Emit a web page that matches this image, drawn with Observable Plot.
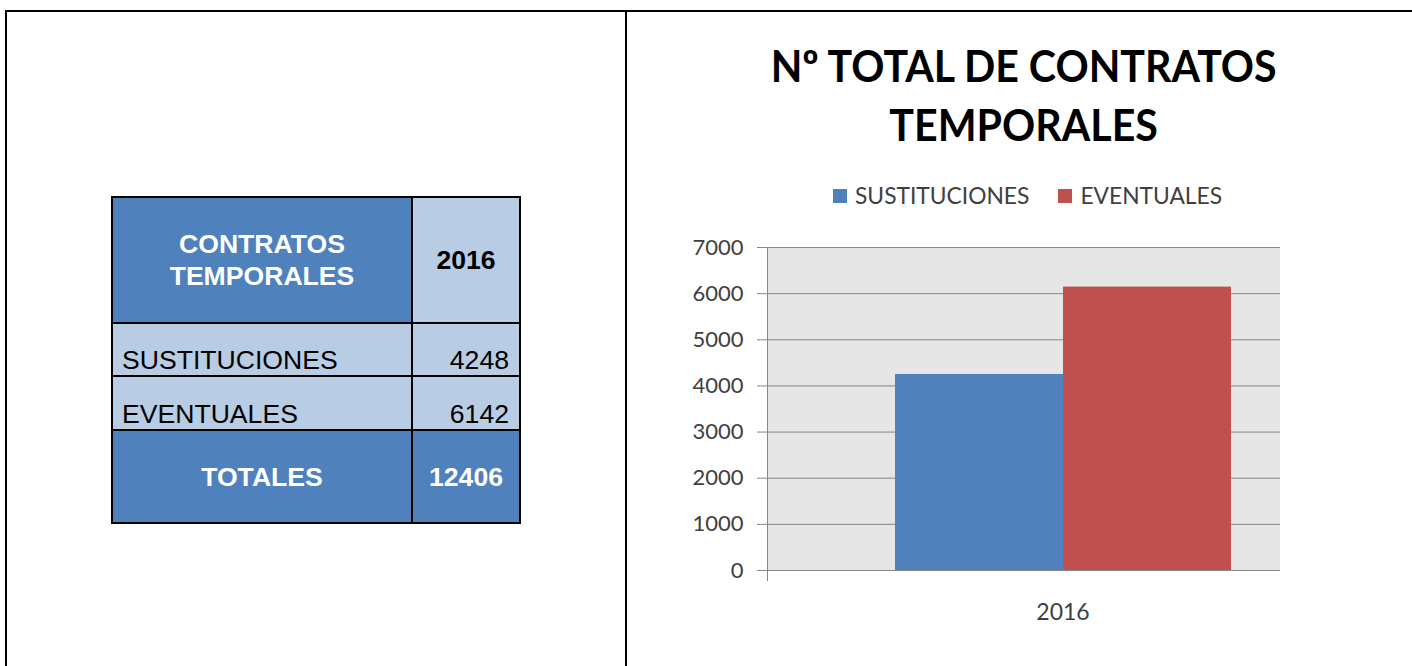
<!DOCTYPE html>
<html>
<head>
<meta charset="utf-8">
<script src="https://cdn.jsdelivr.net/npm/d3@7"></script>
<script src="https://cdn.jsdelivr.net/npm/@observablehq/plot@0.6"></script>
<style>
  html, body { margin: 0; padding: 0; background: #fff; }
  #page { position: relative; width: 1412px; height: 666px; overflow: hidden; background: #fff; }
  .line { position: absolute; background: #000; }
  #tbl { position: absolute; left: 111px; top: 196px; width: 406px; height: 324px; padding: 2px;
         background: #000; display: grid; grid-template-columns: 298px 106px; grid-template-rows: 124px 51px 52px 91px;
         gap: 2px; font-family: "Liberation Sans", Arial, sans-serif; font-size: 26.6px; }
  #tbl div { display: flex; box-sizing: border-box; }
  .dark { background: #4f81bd; color: #fff; font-weight: bold; align-items: center; justify-content: center; text-align: center; line-height: 32px; }
  .light { background: #b8cce4; color: #000; }
  .hdrYear { align-items: center; justify-content: center; font-weight: bold; }
  .rowLabel { align-items: flex-end; justify-content: flex-start; padding-left: 9px; line-height: 30px; }
  .rowVal { align-items: flex-end; justify-content: flex-end; padding-right: 10px; line-height: 30px; }
  #title { position: absolute; left: 627px; width: 794px; top: 36px; text-align: center;
           font-family: Lato, sans-serif; font-weight: bold; font-size: 44px; line-height: 59px; color: #000; }
  #title span { display: inline-block; white-space: nowrap; transform-origin: 50% 50%; }
  #legend { position: absolute; left: 833px; top: 182px; display: flex; align-items: center;
            font-family: Lato, sans-serif; font-size: 22.8px; line-height: 26px; color: #404040; }
  #legend .item { display: flex; align-items: center; margin-right: 29px; }
  #legend .sw { width: 14px; height: 14px; margin-right: 8px; margin-top: 1px; }
  #chart { position: absolute; left: 680px; top: 230px; width: 600px; height: 400px; overflow: hidden; }
  #chart svg { max-width: none !important; }
</style>
</head>
<body>
<div id="page">
  <div class="line" style="left:5px;top:10px;width:1407px;height:2px"></div>
  <div class="line" style="left:5px;top:10px;width:2px;height:656px"></div>
  <div class="line" style="left:625px;top:10px;width:2px;height:656px"></div>
  <div id="tbl"></div>
  <div id="title"></div>
  <div id="legend"></div>
  <div id="chart"></div>
</div>
<script>
// ---- data ----
const years = ["2016"];
const series = ["SUSTITUCIONES", "EVENTUALES"];
const values = [4248, 6142];
const totalLabel = "TOTALES";
const totalValue = 12406;
const tableHeaderLines = ["CONTRATOS", "TEMPORALES"];
const titleLines = ["Nº TOTAL DE CONTRATOS", "TEMPORALES"];
const yTicks = [0, 1000, 2000, 3000, 4000, 5000, 6000, 7000];
const seriesColors = ["#4f81bd", "#c0504d"];

// ---- table ----
const tbl = document.getElementById("tbl");
function cell(cls, html) { const d = document.createElement("div"); d.className = cls; d.innerHTML = html; tbl.appendChild(d); }
cell("dark", tableHeaderLines.join("<br>"));
cell("light hdrYear", years[0]);
series.forEach((s, i) => { cell("light rowLabel", s); cell("light rowVal", values[i]); });
cell("dark", totalLabel);
cell("dark", totalValue);

// ---- title ----
const titleEl = document.getElementById("title");
titleEl.innerHTML = titleLines.map(t => `<span>${t}</span>`).join("<br>");
const spans = titleEl.querySelectorAll("span");
const w0 = spans[0].getBoundingClientRect().width;
const sx = 506 / w0;
spans.forEach(s => s.style.transform = `scaleX(${sx})`);

// ---- legend ----
const legend = document.getElementById("legend");
legend.innerHTML = series.map((s, i) =>
  `<div class="item"><div class="sw" style="background:${seriesColors[i]}"></div><span>${s}</span></div>`).join("");

// ---- chart (plot area continues past the cropped right edge, as in the original) ----
const data = series.map((s, i) => ({year: years[0], series: s, value: values[i]}));
const chart = Plot.plot({
  width: 700,
  height: 400,
  marginLeft: 87,
  marginRight: 22,
  marginTop: 17,
  marginBottom: 60,
  style: {fontFamily: "Lato, sans-serif", background: "transparent", maxWidth: "none"},
  fx: {domain: years, paddingInner: 0, paddingOuter: 0, label: null},
  x: {domain: series, paddingInner: 0, paddingOuter: 0.75, axis: null},
  y: {domain: [0, 7000], label: null},
  color: {domain: series, range: seriesColors},
  marks: [
    Plot.frame({fill: "#e6e6e6", stroke: null}),
    Plot.ruleY(yTicks, {stroke: "#868686", strokeWidth: 1}),
    Plot.frame({anchor: "left", stroke: "#868686", insetBottom: -10}),
    Plot.barY(data, {fx: "year", x: "series", y: "value", fill: "series"}),
    Plot.axisY({ticks: yTicks, tickFormat: "d", tickSize: 10, tickPadding: 14, fontSize: 22, fill: "#404040", stroke: "#868686", label: null}),
    Plot.axisFx({anchor: "bottom", tickSize: 0, tickPadding: 33, fontSize: 23, fill: "#404040", label: null})
  ]
});
document.getElementById("chart").appendChild(chart);
</script>
</body>
</html>
